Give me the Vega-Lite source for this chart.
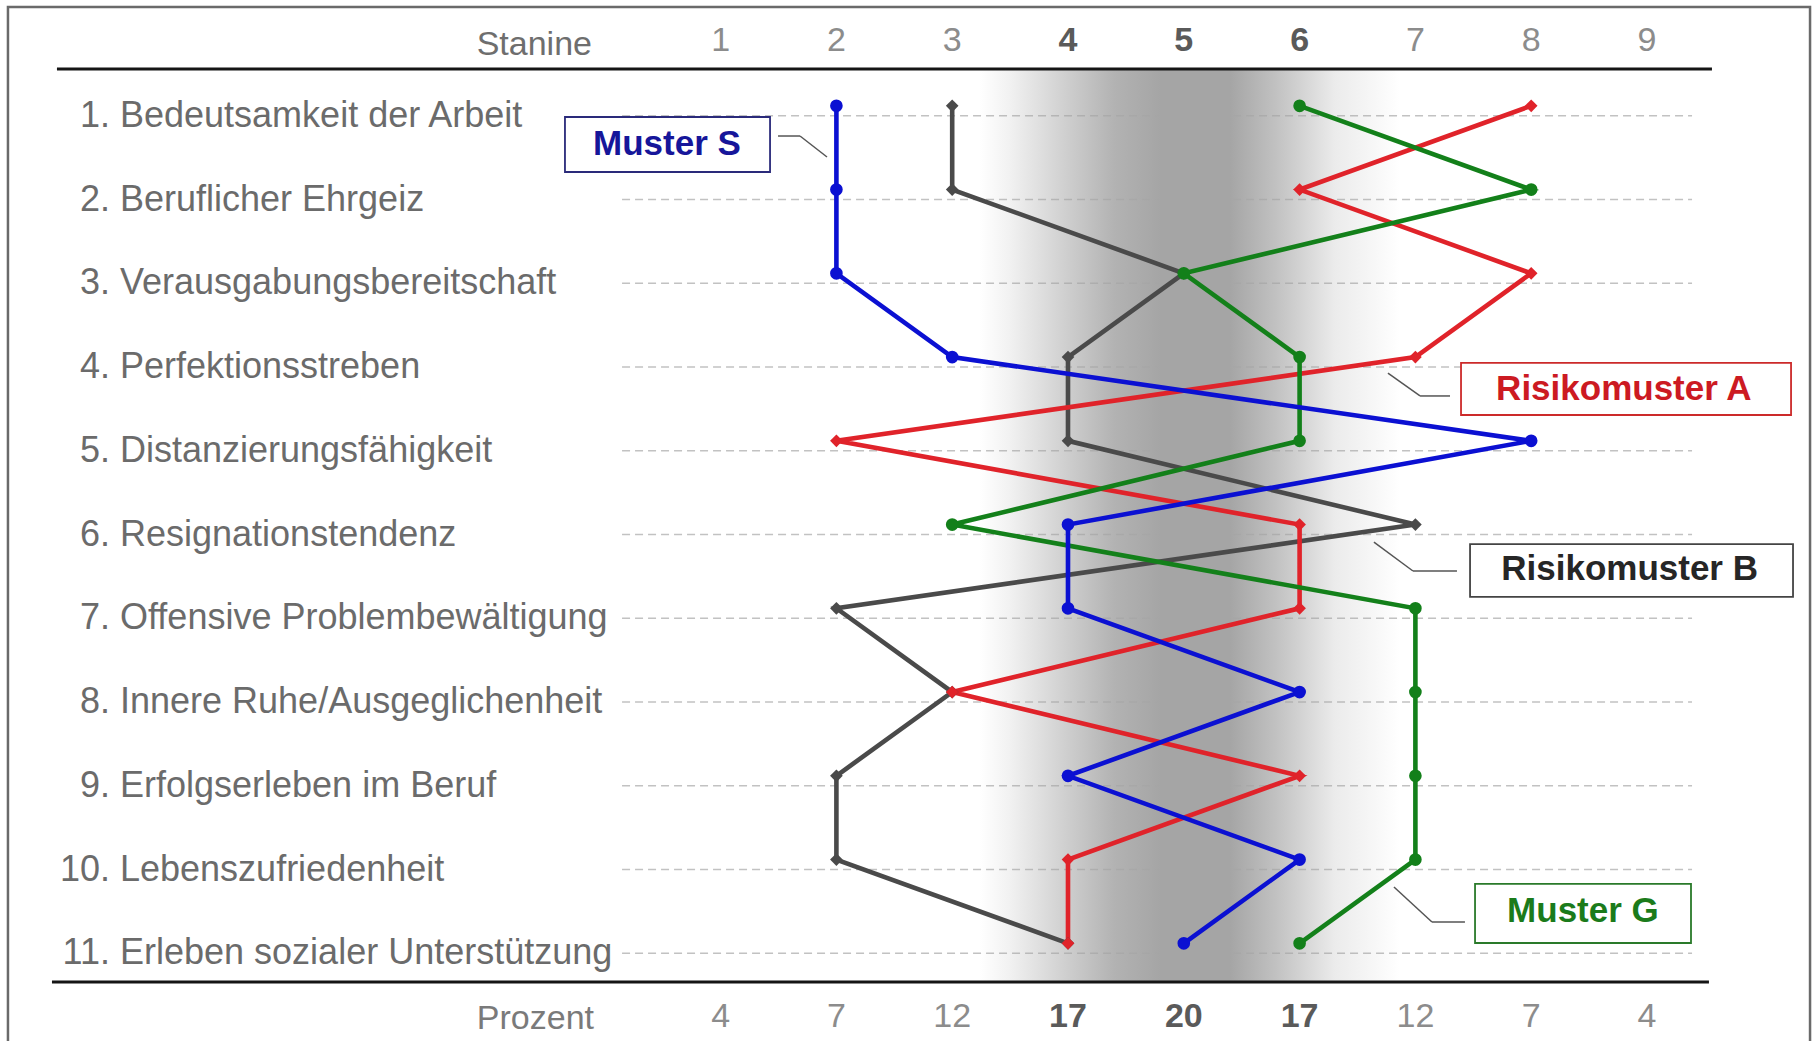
{
"$schema": "https://vega.github.io/schema/vega-lite/v6.json",
"width": 1820, "height": 1041,
"autosize": {"type": "none"},
"padding": 0,
"background": "#ffffff",
"config": {"view": {"stroke": null}, "font": "Liberation Sans"},
"datasets": {
 "rows": [
  {"nr": 1, "num": "1.", "name": "Bedeutsamkeit der Arbeit"},
  {"nr": 2, "num": "2.", "name": "Beruflicher Ehrgeiz"},
  {"nr": 3, "num": "3.", "name": "Verausgabungsbereitschaft"},
  {"nr": 4, "num": "4.", "name": "Perfektionsstreben"},
  {"nr": 5, "num": "5.", "name": "Distanzierungsfähigkeit"},
  {"nr": 6, "num": "6.", "name": "Resignationstendenz"},
  {"nr": 7, "num": "7.", "name": "Offensive Problembewältigung"},
  {"nr": 8, "num": "8.", "name": "Innere Ruhe/Ausgeglichenheit"},
  {"nr": 9, "num": "9.", "name": "Erfolgserleben im Beruf"},
  {"nr": 10, "num": "10.", "name": "Lebenszufriedenheit"},
  {"nr": 11, "num": "11.", "name": "Erleben sozialer Unterstützung"}
 ],
 "stanines": [
  {"stanine": 1, "prozent": 4}, {"stanine": 2, "prozent": 7}, {"stanine": 3, "prozent": 12},
  {"stanine": 4, "prozent": 17}, {"stanine": 5, "prozent": 20}, {"stanine": 6, "prozent": 17},
  {"stanine": 7, "prozent": 12}, {"stanine": 8, "prozent": 7}, {"stanine": 9, "prozent": 4}
 ],
 "profiles": [
  {"muster": "Risikomuster B", "nr": 1, "stanine": 3}, {"muster": "Risikomuster B", "nr": 2, "stanine": 3},
  {"muster": "Risikomuster B", "nr": 3, "stanine": 5}, {"muster": "Risikomuster B", "nr": 4, "stanine": 4},
  {"muster": "Risikomuster B", "nr": 5, "stanine": 4}, {"muster": "Risikomuster B", "nr": 6, "stanine": 7},
  {"muster": "Risikomuster B", "nr": 7, "stanine": 2}, {"muster": "Risikomuster B", "nr": 8, "stanine": 3},
  {"muster": "Risikomuster B", "nr": 9, "stanine": 2}, {"muster": "Risikomuster B", "nr": 10, "stanine": 2},
  {"muster": "Risikomuster B", "nr": 11, "stanine": 4},
  {"muster": "Risikomuster A", "nr": 1, "stanine": 8}, {"muster": "Risikomuster A", "nr": 2, "stanine": 6},
  {"muster": "Risikomuster A", "nr": 3, "stanine": 8}, {"muster": "Risikomuster A", "nr": 4, "stanine": 7},
  {"muster": "Risikomuster A", "nr": 5, "stanine": 2}, {"muster": "Risikomuster A", "nr": 6, "stanine": 6},
  {"muster": "Risikomuster A", "nr": 7, "stanine": 6}, {"muster": "Risikomuster A", "nr": 8, "stanine": 3},
  {"muster": "Risikomuster A", "nr": 9, "stanine": 6}, {"muster": "Risikomuster A", "nr": 10, "stanine": 4},
  {"muster": "Risikomuster A", "nr": 11, "stanine": 4},
  {"muster": "Muster G", "nr": 1, "stanine": 6}, {"muster": "Muster G", "nr": 2, "stanine": 8},
  {"muster": "Muster G", "nr": 3, "stanine": 5}, {"muster": "Muster G", "nr": 4, "stanine": 6},
  {"muster": "Muster G", "nr": 5, "stanine": 6}, {"muster": "Muster G", "nr": 6, "stanine": 3},
  {"muster": "Muster G", "nr": 7, "stanine": 7}, {"muster": "Muster G", "nr": 8, "stanine": 7},
  {"muster": "Muster G", "nr": 9, "stanine": 7}, {"muster": "Muster G", "nr": 10, "stanine": 7},
  {"muster": "Muster G", "nr": 11, "stanine": 6},
  {"muster": "Muster S", "nr": 1, "stanine": 2}, {"muster": "Muster S", "nr": 2, "stanine": 2},
  {"muster": "Muster S", "nr": 3, "stanine": 2}, {"muster": "Muster S", "nr": 4, "stanine": 3},
  {"muster": "Muster S", "nr": 5, "stanine": 8}, {"muster": "Muster S", "nr": 6, "stanine": 4},
  {"muster": "Muster S", "nr": 7, "stanine": 4}, {"muster": "Muster S", "nr": 8, "stanine": 6},
  {"muster": "Muster S", "nr": 9, "stanine": 4}, {"muster": "Muster S", "nr": 10, "stanine": 6},
  {"muster": "Muster S", "nr": 11, "stanine": 5}
 ]
},
"layer": [
 {
  "data": {"values": [{}]},
  "mark": {"type": "rect", "fill": "#ffffff", "stroke": "#6a6a6a", "strokeWidth": 2.5, "clip": true},
  "encoding": {
   "x": {"datum": -5.154, "type": "quantitative", "scale": {"domain": [-5.2228, 10.494], "nice": false, "zero": false}, "axis": null},
   "x2": {"datum": 10.408},
   "y": {"datum": -0.299, "type": "quantitative", "scale": {"domain": [-0.383, 12.047], "nice": false, "zero": false, "reverse": true}, "axis": null},
   "y2": {"datum": 12.4}
  }
 },
 {
  "data": {"name": "rows"},
  "mark": {"type": "rule", "stroke": "#c2c2c2", "strokeWidth": 1.5, "strokeDash": [8, 5]},
  "encoding": {
   "y": {"field": "nr", "type": "quantitative", "axis": null},
   "x": {"datum": 0.149, "type": "quantitative", "axis": null},
   "x2": {"datum": 9.389}
  }
 },
 {
  "data": {"values": [{}]},
  "mark": {"type": "rect", "fill": {"gradient": "linear", "x1": 0, "y1": 0, "x2": 1, "y2": 0, "stops": [
    {"offset": 0, "color": "rgba(165,165,165,0)"},
    {"offset": 0.07, "color": "rgba(165,165,165,0.15)"},
    {"offset": 0.21, "color": "rgba(165,165,165,0.55)"},
    {"offset": 0.32, "color": "rgba(165,165,165,0.85)"},
    {"offset": 0.43, "color": "rgba(165,165,165,1)"},
    {"offset": 0.595, "color": "rgba(165,165,165,1)"},
    {"offset": 0.707, "color": "rgba(165,165,165,0.68)"},
    {"offset": 0.845, "color": "rgba(165,165,165,0.22)"},
    {"offset": 1, "color": "rgba(165,165,165,0)"}
  ]}},
  "encoding": {
   "x": {"datum": 3.24, "type": "quantitative", "axis": null},
   "x2": {"datum": 6.867},
   "y": {"datum": 0.453, "type": "quantitative", "axis": null},
   "y2": {"datum": 11.33}
  }
 },
 {
  "data": {"values": [{}]},
  "mark": {"type": "rule", "stroke": "#151515", "strokeWidth": 3},
  "encoding": {
   "x": {"datum": -4.731, "type": "quantitative", "axis": null},
   "x2": {"datum": 9.561},
   "y": {"datum": 0.441, "type": "quantitative", "axis": null}
  }
 },
 {
  "data": {"values": [{}]},
  "mark": {"type": "rule", "stroke": "#151515", "strokeWidth": 3},
  "encoding": {
   "x": {"datum": -4.774, "type": "quantitative", "axis": null},
   "x2": {"datum": 9.535},
   "y": {"datum": 11.342, "type": "quantitative", "axis": null}
  }
 },
 {
  "data": {"values": [{"t": "Stanine"}]},
  "mark": {"type": "text", "align": "right", "baseline": "alphabetic", "fontSize": 34, "fill": "#6e6e6e"},
  "encoding": {
   "x": {"datum": -0.1105, "type": "quantitative", "axis": null},
   "y": {"datum": 0.274, "type": "quantitative", "axis": null},
   "text": {"field": "t"}
  }
 },
 {
  "data": {"name": "stanines"},
  "transform": [{"filter": "datum.stanine < 4 || datum.stanine > 6"}],
  "mark": {"type": "text", "align": "center", "baseline": "alphabetic", "fontSize": 34, "fill": "#8c8c8c"},
  "encoding": {
   "x": {"field": "stanine", "type": "quantitative", "axis": null},
   "y": {"datum": 0.226, "type": "quantitative", "axis": null},
   "text": {"field": "stanine"}
  }
 },
 {
  "data": {"name": "stanines"},
  "transform": [{"filter": "datum.stanine >= 4 && datum.stanine <= 6"}],
  "mark": {"type": "text", "align": "center", "baseline": "alphabetic", "fontSize": 34, "fontWeight": "bold", "fill": "#5a5a5a"},
  "encoding": {
   "x": {"field": "stanine", "type": "quantitative", "axis": null},
   "y": {"datum": 0.226, "type": "quantitative", "axis": null},
   "text": {"field": "stanine"}
  }
 },
 {
  "data": {"values": [{"t": "Prozent"}]},
  "mark": {"type": "text", "align": "right", "baseline": "alphabetic", "fontSize": 34, "fill": "#7a7a7a"},
  "encoding": {
   "x": {"datum": -0.0933, "type": "quantitative", "axis": null},
   "y": {"datum": 11.904, "type": "quantitative", "axis": null},
   "text": {"field": "t"}
  }
 },
 {
  "data": {"name": "stanines"},
  "transform": [{"filter": "datum.stanine < 4 || datum.stanine > 6"}],
  "mark": {"type": "text", "align": "center", "baseline": "alphabetic", "fontSize": 34, "fill": "#8c8c8c"},
  "encoding": {
   "x": {"field": "stanine", "type": "quantitative", "axis": null},
   "y": {"datum": 11.88, "type": "quantitative", "axis": null},
   "text": {"field": "prozent"}
  }
 },
 {
  "data": {"name": "stanines"},
  "transform": [{"filter": "datum.stanine >= 4 && datum.stanine <= 6"}],
  "mark": {"type": "text", "align": "center", "baseline": "alphabetic", "fontSize": 34, "fontWeight": "bold", "fill": "#5a5a5a"},
  "encoding": {
   "x": {"field": "stanine", "type": "quantitative", "axis": null},
   "y": {"datum": 11.88, "type": "quantitative", "axis": null},
   "text": {"field": "prozent"}
  }
 },
 {
  "data": {"name": "rows"},
  "mark": {"type": "text", "align": "right", "baseline": "middle", "fontSize": 36, "fill": "#6b6b6b"},
  "encoding": {
   "x": {"datum": -4.273, "type": "quantitative", "axis": null},
   "y": {"field": "nr", "type": "quantitative", "axis": null},
   "text": {"field": "num"}
  }
 },
 {
  "data": {"name": "rows"},
  "mark": {"type": "text", "align": "left", "baseline": "middle", "fontSize": 36, "fill": "#6b6b6b"},
  "encoding": {
   "x": {"datum": -4.1865, "type": "quantitative", "axis": null},
   "y": {"field": "nr", "type": "quantitative", "axis": null},
   "text": {"field": "name"}
  }
 },
 {
  "data": {"name": "profiles"},
  "mark": {"type": "line", "strokeWidth": 4.6, "yOffset": -10},
  "encoding": {
   "x": {"field": "stanine", "type": "quantitative", "axis": null},
   "y": {"field": "nr", "type": "quantitative", "axis": null},
   "order": {"field": "nr", "type": "quantitative"},
   "color": {"field": "muster", "type": "nominal", "legend": null,
     "scale": {"domain": ["Risikomuster B", "Risikomuster A", "Muster G", "Muster S"], "range": ["#4a4a4a", "#e0232a", "#13801a", "#0b10d2"]}}
  }
 },
 {
  "data": {"name": "profiles"},
  "mark": {"type": "point", "filled": true, "opacity": 1, "size": 160, "yOffset": -10},
  "encoding": {
   "x": {"field": "stanine", "type": "quantitative", "axis": null},
   "y": {"field": "nr", "type": "quantitative", "axis": null},
   "color": {"field": "muster", "type": "nominal", "legend": null},
   "shape": {"field": "muster", "type": "nominal", "legend": null,
     "scale": {"domain": ["Risikomuster B", "Risikomuster A", "Muster G", "Muster S"], "range": ["diamond", "diamond", "circle", "circle"]}}
  }
 },
 {
  "data": {"values": [{}]},
  "mark": {"type": "rect", "fill": "#ffffff", "stroke": "#2a2a7a", "strokeWidth": 1.8},
  "encoding": {
   "x": {"datum": -0.344, "type": "quantitative", "axis": null}, "x2": {"datum": 1.427},
   "y": {"datum": 1.014, "type": "quantitative", "axis": null}, "y2": {"datum": 1.671}
  }
 },
 {
  "data": {"values": [{}]},
  "mark": {"type": "rect", "fill": "#ffffff", "stroke": "#cc2a2a", "strokeWidth": 1.8},
  "encoding": {
   "x": {"datum": 7.394, "type": "quantitative", "axis": null}, "x2": {"datum": 10.244},
   "y": {"datum": 3.951, "type": "quantitative", "axis": null}, "y2": {"datum": 4.572}
  }
 },
 {
  "data": {"values": [{}]},
  "mark": {"type": "rect", "fill": "#ffffff", "stroke": "#444444", "strokeWidth": 1.8},
  "encoding": {
   "x": {"datum": 7.472, "type": "quantitative", "axis": null}, "x2": {"datum": 10.261},
   "y": {"datum": 6.113, "type": "quantitative", "axis": null}, "y2": {"datum": 6.745}
  }
 },
 {
  "data": {"values": [{}]},
  "mark": {"type": "rect", "fill": "#ffffff", "stroke": "#2a7a2a", "strokeWidth": 1.8},
  "encoding": {
   "x": {"datum": 7.515, "type": "quantitative", "axis": null}, "x2": {"datum": 9.38},
   "y": {"datum": 10.172, "type": "quantitative", "axis": null}, "y2": {"datum": 10.877}
  }
 },
 {
  "data": {"values": [{"t": "Muster S"}]},
  "mark": {"type": "text", "align": "center", "baseline": "middle", "fontSize": 35, "fontWeight": "bold", "fill": "#16169a"},
  "encoding": {
   "x": {"datum": 0.537, "type": "quantitative", "axis": null},
   "y": {"datum": 1.342, "type": "quantitative", "axis": null},
   "text": {"field": "t"}
  }
 },
 {
  "data": {"values": [{"t": "Risikomuster A"}]},
  "mark": {"type": "text", "align": "center", "baseline": "middle", "fontSize": 35, "fontWeight": "bold", "fill": "#cc1a22"},
  "encoding": {
   "x": {"datum": 8.8, "type": "quantitative", "axis": null},
   "y": {"datum": 4.262, "type": "quantitative", "axis": null},
   "text": {"field": "t"}
  }
 },
 {
  "data": {"values": [{"t": "Risikomuster B"}]},
  "mark": {"type": "text", "align": "center", "baseline": "middle", "fontSize": 35, "fontWeight": "bold", "fill": "#262626"},
  "encoding": {
   "x": {"datum": 8.85, "type": "quantitative", "axis": null},
   "y": {"datum": 6.41, "type": "quantitative", "axis": null},
   "text": {"field": "t"}
  }
 },
 {
  "data": {"values": [{"t": "Muster G"}]},
  "mark": {"type": "text", "align": "center", "baseline": "middle", "fontSize": 35, "fontWeight": "bold", "fill": "#1b7b1b"},
  "encoding": {
   "x": {"datum": 8.447, "type": "quantitative", "axis": null},
   "y": {"datum": 10.5, "type": "quantitative", "axis": null},
   "text": {"field": "t"}
  }
 },
 {
  "data": {"values": [{}]},
  "mark": {"type": "rule", "stroke": "#555555", "strokeWidth": 1.5},
  "encoding": {
   "x": {"datum": 1.496, "type": "quantitative", "axis": null}, "x2": {"datum": 1.686},
   "y": {"datum": 1.241, "type": "quantitative", "axis": null}, "y2": {"datum": 1.241}
  }
 },
 {
  "data": {"values": [{}]},
  "mark": {"type": "rule", "stroke": "#555555", "strokeWidth": 1.5},
  "encoding": {
   "x": {"datum": 1.686, "type": "quantitative", "axis": null}, "x2": {"datum": 1.919},
   "y": {"datum": 1.241, "type": "quantitative", "axis": null}, "y2": {"datum": 1.492}
  }
 },
 {
  "data": {"values": [{}]},
  "mark": {"type": "rule", "stroke": "#555555", "strokeWidth": 1.5},
  "encoding": {
   "x": {"datum": 7.299, "type": "quantitative", "axis": null}, "x2": {"datum": 7.04},
   "y": {"datum": 4.345, "type": "quantitative", "axis": null}, "y2": {"datum": 4.345}
  }
 },
 {
  "data": {"values": [{}]},
  "mark": {"type": "rule", "stroke": "#555555", "strokeWidth": 1.5},
  "encoding": {
   "x": {"datum": 7.04, "type": "quantitative", "axis": null}, "x2": {"datum": 6.763},
   "y": {"datum": 4.345, "type": "quantitative", "axis": null}, "y2": {"datum": 4.071}
  }
 },
 {
  "data": {"values": [{}]},
  "mark": {"type": "rule", "stroke": "#555555", "strokeWidth": 1.5},
  "encoding": {
   "x": {"datum": 7.359, "type": "quantitative", "axis": null}, "x2": {"datum": 6.979},
   "y": {"datum": 6.435, "type": "quantitative", "axis": null}, "y2": {"datum": 6.435}
  }
 },
 {
  "data": {"values": [{}]},
  "mark": {"type": "rule", "stroke": "#555555", "strokeWidth": 1.5},
  "encoding": {
   "x": {"datum": 6.979, "type": "quantitative", "axis": null}, "x2": {"datum": 6.642},
   "y": {"datum": 6.435, "type": "quantitative", "axis": null}, "y2": {"datum": 6.089}
  }
 },
 {
  "data": {"values": [{}]},
  "mark": {"type": "rule", "stroke": "#555555", "strokeWidth": 1.5},
  "encoding": {
   "x": {"datum": 7.428, "type": "quantitative", "axis": null}, "x2": {"datum": 7.143},
   "y": {"datum": 10.626, "type": "quantitative", "axis": null}, "y2": {"datum": 10.626}
  }
 },
 {
  "data": {"values": [{}]},
  "mark": {"type": "rule", "stroke": "#555555", "strokeWidth": 1.5},
  "encoding": {
   "x": {"datum": 7.143, "type": "quantitative", "axis": null}, "x2": {"datum": 6.815},
   "y": {"datum": 10.626, "type": "quantitative", "axis": null}, "y2": {"datum": 10.208}
  }
 }
]
}
